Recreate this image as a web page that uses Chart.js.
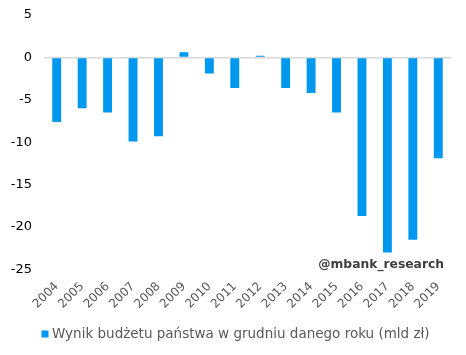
<!DOCTYPE html>
<html>
<head>
<meta charset="utf-8">
<script src="https://cdn.jsdelivr.net/npm/chart.js@4/dist/chart.umd.min.js"></script>
<style>
  html, body { margin: 0; padding: 0; background: #fff; }
  #wrap { width: 466px; height: 355px; position: relative; }
</style>
</head>
<body>
<div id="wrap"><canvas id="budgetChart"></canvas></div>
<script>
const years = ['2004', '2005', '2006', '2007', '2008', '2009', '2010', '2011',
               '2012', '2013', '2014', '2015', '2016', '2017', '2018', '2019'];
const budgetResult = [-7.6, -6.0, -6.5, -9.9, -9.3, 0.6, -1.9, -3.6,
                      0.2, -3.6, -4.2, -6.5, -18.7, -23.0, -21.5, -11.9];
const seriesLabel = 'Wynik budżetu państwa w grudniu danego roku (mld zł)';
const watermark = '@mbank_research';
const barColor = '#0097ee';

const ctx = document.getElementById('budgetChart').getContext('2d');

// signature text in the lower right corner of the plot + bottom legend
const extrasPlugin = {
    id: 'extras',
    afterDraw(chart) {
        const c = chart.ctx;
        const area = chart.chartArea;
        c.save();
        c.font = 'bold 12.3px "DejaVu Sans"';
        c.fillStyle = '#3f3f3f';
        c.textAlign = 'right';
        c.textBaseline = 'middle';
        c.fillText(watermark, area.right - 7, area.bottom - 5);

        // legend
        const ly = chart.height - 21;
        c.fillStyle = barColor;
        c.fillRect(41.5, ly - 3.5, 7, 7);
        c.font = '13.5px "DejaVu Sans"';
        c.fillStyle = '#595959';
        c.textAlign = 'left';
        c.fillText(seriesLabel, 52, ly);
        c.restore();
    }
};

const chart = new Chart(ctx, {
    type: 'bar',
    data: {
        labels: years,
        datasets: [{
            label: seriesLabel,
            data: budgetResult,
            backgroundColor: barColor,
            borderWidth: 0,
            barPercentage: 0.7,
            categoryPercentage: 0.5
        }]
    },
    options: {
        responsive: true,
        maintainAspectRatio: false,
        animation: false,
        layout: { padding: { top: 15, right: 15, left: 0, bottom: 37.5 } },
        scales: {
            y: {
                min: -25,
                max: 5,
                ticks: {
                    stepSize: 5,
                    color: '#000',
                    padding: 0,
                    font: { family: 'DejaVu Sans', size: 13 }
                },
                grid: {
                    drawTicks: true,
                    tickLength: 12,
                    tickColor: 'transparent',
                    lineWidth: 1.5,
                    color: c => c.tick && c.tick.value === 0 ? '#d9d9d9' : 'transparent'
                },
                border: { display: false },
                afterFit: s => { s.width = 44; }
            },
            x: {
                ticks: {
                    minRotation: 45,
                    maxRotation: 45,
                    color: '#595959',
                    padding: 10,
                    font: { family: 'DejaVu Sans', size: 12 }
                },
                grid: { display: false, drawTicks: false },
                border: { display: false },
                afterFit: s => { s.height = 48; }
            }
        },
        plugins: {
            legend: { display: false },
            tooltip: { enabled: false }
        }
    },
    plugins: [extrasPlugin]
});
</script>
</body>
</html>
